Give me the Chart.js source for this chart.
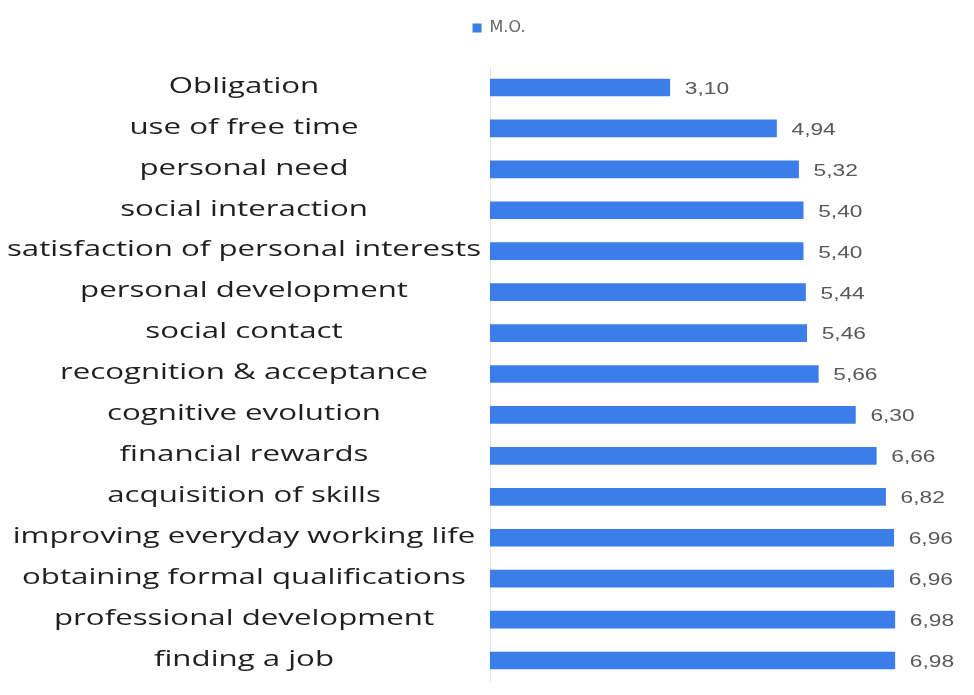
<!DOCTYPE html>
<html>
<head>
<meta charset="utf-8">
<script src="https://cdn.jsdelivr.net/npm/chart.js@4/dist/chart.umd.min.js"></script>
<style>
  html, body { margin: 0; padding: 0; background: #fff; }
  #wrap { width: 974px; height: 695px; }
</style>
</head>
<body>
<div id="wrap"><canvas id="motives-chart"></canvas></div>
<script>
const motives = [
  'Obligation',
  'use of free time',
  'personal need',
  'social interaction',
  'satisfaction of personal interests',
  'personal development',
  'social contact',
  'recognition & acceptance',
  'cognitive evolution',
  'financial rewards',
  'acquisition of skills',
  'improving everyday working life',
  'obtaining formal qualifications',
  'professional development',
  'finding a job'
]
const meanScores = [3.10, 4.94, 5.32, 5.40, 5.40, 5.44, 5.46, 5.66, 6.30, 6.66, 6.82, 6.96, 6.96, 6.98, 6.98]
const seriesName = 'M.O.'

const fmt = (v) => v.toFixed(2).replace('.', ',')

// text is drawn a bit wide, like the exported sheet
const STRETCH = 1.42

const drawWide = (ctx, text, x, y, align) => {
  ctx.save()
  ctx.translate(x, y)
  ctx.scale(STRETCH, 1)
  ctx.textAlign = align
  ctx.fillText(text, 0, 0)
  ctx.restore()
}

// category names, centred in the left column
const categoryLabels = {
  id: 'categoryLabels',
  afterDraw(chart) {
    const ctx = chart.ctx
    const yScale = chart.scales.y
    ctx.save()
    ctx.font = '22px "Open Sans", sans-serif'
    ctx.fillStyle = '#1f1f1f'
    ctx.textBaseline = 'middle'
    yScale.ticks.forEach((t, i) => {
      drawWide(ctx, motives[i], 244, yScale.getPixelForTick(i) - 1, 'center')
    })
    ctx.restore()
  }
}

// value text at the end of each bar
const barValues = {
  id: 'barValues',
  afterDatasetsDraw(chart) {
    const ctx = chart.ctx
    const meta = chart.getDatasetMeta(0)
    ctx.save()
    ctx.font = '16px "Liberation Sans", Arial, sans-serif'
    ctx.fillStyle = '#595959'
    ctx.textBaseline = 'middle'
    meta.data.forEach((bar, i) => {
      drawWide(ctx, fmt(meanScores[i]), bar.x + 15, bar.y + 2, 'left')
    })
    ctx.restore()
  }
}

new Chart(document.getElementById('motives-chart'), {
  type: 'bar',
  data: {
    labels: motives,
    datasets: [
      {
        label: seriesName,
        data: meanScores,
        backgroundColor: '#3b7ee9',
        borderWidth: 0,
        barThickness: 17
      }
    ]
  },
  options: {
    indexAxis: 'y',
    responsive: true,
    maintainAspectRatio: false,
    animation: false,
    layout: { padding: { left: 24, right: 0, top: 0, bottom: 14 } },
    plugins: {
      legend: {
        display: true,
        position: 'top',
        labels: {
          boxWidth: 9,
          boxHeight: 9,
          color: '#666',
          font: { family: '"DejaVu Sans", sans-serif', size: 16 },
          padding: 20
        }
      },
      tooltip: { enabled: false }
    },
    scales: {
      x: {
        position: 'top',
        min: 0,
        max: 7,
        afterFit: (scale) => { scale.height = 21 },
        grid: { display: false, drawTicks: false },
        border: { display: false },
        ticks: { display: false }
      },
      y: {
        afterFit: (scale) => { scale.width = 466 },
        grid: { display: false, drawTicks: false },
        border: { display: true, color: '#e4e4e4' },
        ticks: { display: false }
      },
      // empty column on the right that holds the value texts
      valueGutter: {
        type: 'linear',
        position: 'right',
        afterFit: (scale) => { scale.width = 78 },
        grid: { display: false, drawTicks: false },
        border: { display: false },
        ticks: { display: false }
      }
    }
  },
  plugins: [barValues, categoryLabels]
})
</script>
</body>
</html>
